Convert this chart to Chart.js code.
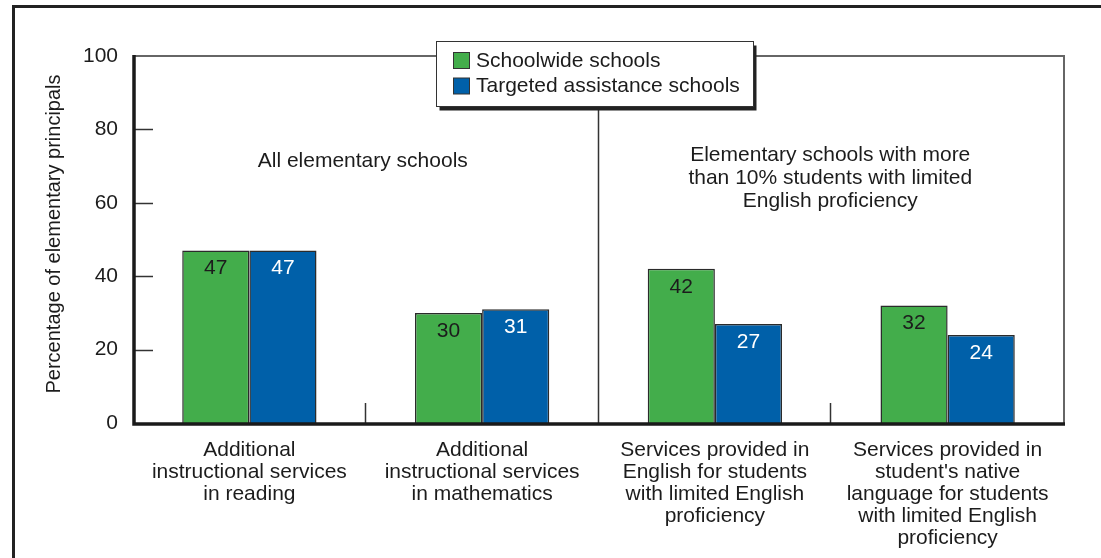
<!DOCTYPE html>
<html>
<head>
<meta charset="utf-8">
<script src="https://cdn.jsdelivr.net/npm/chart.js@4/dist/chart.umd.min.js"></script>
<style>
  html, body { margin: 0; padding: 0; background: #fff; }
  #wrap { width: 1101px; height: 558px; position: relative; }
</style>
</head>
<body>
<div id="wrap"><canvas id="c"></canvas></div>
<script>
// Category labels (one line per array entry)
const categories = [
  ["Additional", "instructional services", "in reading"],
  ["Additional", "instructional services", "in mathematics"],
  ["Services provided in", "English for students", "with limited English", "proficiency"],
  ["Services provided in", "student's native", "language for students", "with limited English", "proficiency"]
];
const seriesNames = ["Schoolwide schools", "Targeted assistance schools"];
const schoolwide = [47, 30, 42, 32];
const targeted = [47, 31, 27, 24];
const yTickValues = [0, 20, 40, 60, 80, 100];
const yTitle = "Percentage of elementary principals";
const groupNotes = [
  ["All elementary schools"],
  ["Elementary schools with more", "than 10% students with limited", "English proficiency"]
];

const FONT = '"Liberation Sans", Arial, Helvetica, sans-serif';
const GREEN = '#43ad4b';
const BLUE = '#0060a9';
const INK = '#1c1c1c';

const decorations = {
  id: 'decorations',
  beforeDatasetsDraw(chart) {
    const ctx = chart.ctx;
    const a = chart.chartArea;
    const xs = chart.scales.x;
    const ys = chart.scales.y;
    ctx.save();
    // outer frame (top and left rules)
    ctx.strokeStyle = '#222';
    ctx.lineWidth = 3;
    ctx.beginPath();
    ctx.moveTo(12, 6.5); ctx.lineTo(1101, 6.5);
    ctx.moveTo(13.5, 5); ctx.lineTo(13.5, 558);
    ctx.stroke();

    // plot box top and right edges
    ctx.strokeStyle = '#666';
    ctx.lineWidth = 2;
    ctx.beginPath();
    ctx.moveTo(a.left, a.top); ctx.lineTo(a.right, a.top); ctx.lineTo(a.right, a.bottom);
    ctx.stroke();

    // category separators: full divider between the two groups, short ticks elsewhere
    ctx.strokeStyle = '#333';
    ctx.lineWidth = 1.5;
    for (let i = 0; i < categories.length - 1; i++) {
      const x = Math.round((xs.getPixelForValue(i) + xs.getPixelForValue(i + 1)) / 2) - 0.5;
      ctx.beginPath();
      if (i === 1) { ctx.moveTo(x, a.top); } else { ctx.moveTo(x, a.bottom - 20); }
      ctx.lineTo(x, a.bottom);
      ctx.stroke();
    }

    // inward tick marks on the value axis
    ctx.strokeStyle = '#333';
    ctx.lineWidth = 1.5;
    yTickValues.forEach(v => {
      if (v === 0 || v === 100) return;
      const y = Math.round(ys.getPixelForValue(v)) + 0.5;
      ctx.beginPath();
      ctx.moveTo(a.left, y); ctx.lineTo(a.left + 20, y);
      ctx.stroke();
    });

    // group notes
    ctx.fillStyle = INK;
    ctx.font = '21px ' + FONT;
    ctx.textAlign = 'center';
    ctx.textBaseline = 'middle';
    const leftMid = (xs.getPixelForValue(0) + xs.getPixelForValue(1)) / 2;
    const rightMid = (xs.getPixelForValue(2) + xs.getPixelForValue(3)) / 2;
    ctx.fillText(groupNotes[0][0], leftMid - 3, 161);
    groupNotes[1].forEach((line, k) => ctx.fillText(line, rightMid - 1, 155 + k * 23));

    // value axis title
    ctx.font = '20px ' + FONT;
    ctx.save();
    ctx.translate(54, 234);
    ctx.rotate(-Math.PI / 2);
    ctx.fillText(yTitle, 0, 0);
    ctx.restore();
    ctx.restore();
  },
  afterDatasetsDraw(chart) {
    const ctx = chart.ctx;
    const a = chart.chartArea;
    ctx.save();
    // value labels inside the bars
    ctx.font = '21px ' + FONT;
    ctx.textAlign = 'center';
    ctx.textBaseline = 'middle';
    chart.data.datasets.forEach((ds, di) => {
      const meta = chart.getDatasetMeta(di);
      meta.data.forEach((bar, i) => {
        ctx.fillStyle = di === 0 ? INK : '#ffffff';
        ctx.fillText(String(ds.data[i]), bar.x, bar.y + 18);
      });
    });

    // heavy axis lines
    ctx.strokeStyle = '#1a1a1a';
    ctx.lineWidth = 3.5;
    ctx.beginPath();
    ctx.moveTo(a.left + 1, a.top - 1);
    ctx.lineTo(a.left + 1, a.bottom + 1);
    ctx.lineTo(a.right + 1, a.bottom + 1);
    ctx.stroke();

    // legend box with drop shadow
    const bx = 436.5, by = 41.5, bw = 317, bh = 65;
    ctx.fillStyle = '#222';
    ctx.fillRect(bx + 3, by + 4, bw, bh);
    ctx.fillStyle = '#fff';
    ctx.fillRect(bx, by, bw, bh);
    ctx.strokeStyle = '#333';
    ctx.lineWidth = 1;
    ctx.strokeRect(bx, by, bw, bh);
    ctx.textAlign = 'left';
    chart.data.datasets.forEach((ds, di) => {
      const cy = 60.5 + di * 25.5;
      ctx.fillStyle = ds.backgroundColor;
      ctx.fillRect(453.5, cy - 8, 16, 16);
      ctx.strokeStyle = '#333';
      ctx.strokeRect(453.5, cy - 8, 16, 16);
      ctx.fillStyle = INK;
      ctx.fillText(ds.label, 476, cy + 0.5);
    });
    ctx.restore();
  }
};

new Chart(document.getElementById('c'), {
  type: 'bar',
  data: {
    labels: categories,
    datasets: [
      { label: seriesNames[0], data: schoolwide, backgroundColor: GREEN, borderColor: '#2b2b2b', borderWidth: 1.5 },
      { label: seriesNames[1], data: targeted, backgroundColor: BLUE, borderColor: '#2b2b2b', borderWidth: 1.5 }
    ]
  },
  options: {
    responsive: true,
    maintainAspectRatio: false,
    animation: false,
    layout: { padding: { top: 56, right: 37, left: 0, bottom: 0 } },
    plugins: { legend: { display: false }, tooltip: { enabled: false } },
    datasets: { bar: { categoryPercentage: 0.577, barPercentage: 1 } },
    scales: {
      x: {
        grid: { display: false, drawTicks: false },
        border: { display: false },
        ticks: {
          color: INK,
          padding: 16,
          maxRotation: 0,
          autoSkip: false,
          font: { family: FONT, size: 21, lineHeight: '22px' }
        },
        afterFit(scale) { scale.height = 135; }
      },
      y: {
        min: 0,
        max: 100,
        afterBuildTicks(scale) { scale.ticks = yTickValues.map(v => ({ value: v })); },
        grid: { display: false, drawTicks: false },
        border: { display: false },
        ticks: {
          color: INK,
          padding: 15,
          font: { family: FONT, size: 21 }
        },
        afterFit(scale) { scale.width = 133; }
      }
    }
  },
  plugins: [decorations]
});
</script>
</body>
</html>
